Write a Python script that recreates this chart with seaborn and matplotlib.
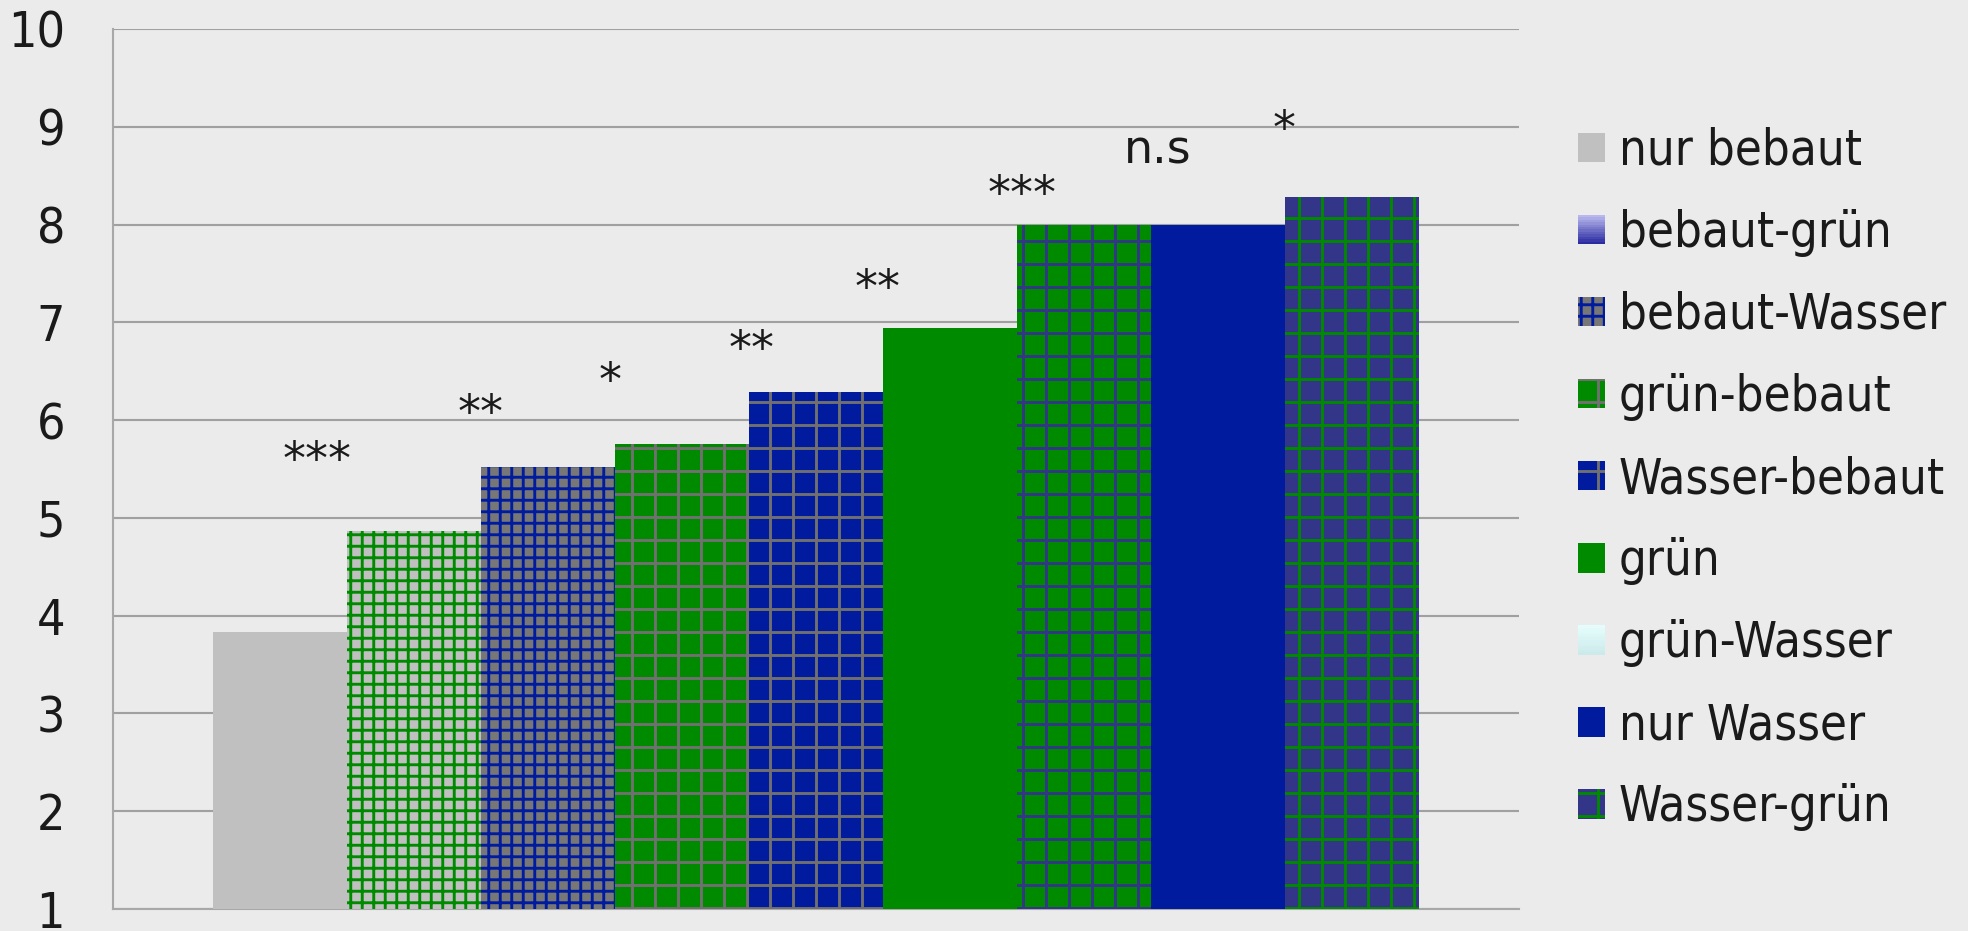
import matplotlib
matplotlib.use("Agg")
import matplotlib.pyplot as plt
from matplotlib.patches import Patch, Rectangle
from matplotlib.legend_handler import HandlerBase
from matplotlib import font_manager
import matplotlib.colors as mcolors
import numpy as np
import seaborn as sns
import pandas as pd

# ---- data ----
categories = ["nur bebaut", "bebaut-grün", "bebaut-Wasser", "grün-bebaut",
              "Wasser-bebaut", "grün", "grün-Wasser", "nur Wasser", "Wasser-grün"]
values = [3.83, 4.87, 5.52, 5.76, 6.29, 6.94, 8.0, 8.0, 8.28]

sig_labels = ["***", "**", "*", "**", "**", "***", "n.s", "*"]
sig_x = [0.28, 1.5, 2.46, 3.52, 4.46, 5.54, 6.55, 7.49]
sig_y = [5.45, 5.93, 6.26, 6.58, 7.21, 8.17, 8.62, 8.83]

yticks = [1, 2, 3, 4, 5, 6, 7, 8, 9, 10]

# ---- styles ----
GREY = "#c0c0c0"
DGREY = "#777777"
GREEN = "#008a00"
BLUE = "#001b9e"
PURP = "#333588"
LINE = "#707070"

bar_face = [GREY, GREY, DGREY, GREEN, BLUE, GREEN, GREEN, BLUE, PURP]
bar_hatch = [None, "++", "++", "+", "+", None, "+", None, "+"]
bar_hcol = [GREY, GREEN, BLUE, LINE, LINE, GREEN, PURP, BLUE, GREEN]

leg_face = [GREY, "#7070c4", DGREY, GREEN, BLUE, GREEN, "#d9f5f5", BLUE, PURP]
leg_hatch = [None, None, "++", "+", "+", None, None, None, "+"]
leg_hcol = [GREY, "#7070c4", BLUE, LINE, LINE, GREEN, "#d9f5f5", BLUE, GREEN]
leg_grad = [None, ("#b8b8ee", "#2c2ca2"), None, None, None, None,
            ("#e4fcfc", "#cdeaea"), None, None]

BG = "#ebebeb"
TXT = "#1a1a1a"

sns.set_theme(style="white")
plt.rcParams["font.family"] = ["DejaVu Sans"]
plt.rcParams["hatch.linewidth"] = 1.5
plt.rcParams["text.color"] = TXT

# use condensed DejaVu if available (closer to the reference's narrow face)
cond_path = font_manager.findfont(font_manager.FontProperties(family="DejaVu Sans", stretch="condensed"))
condensed = "Condensed" in cond_path
if condensed:
    tick_fp = font_manager.FontProperties(fname=cond_path, size=26)
    leg_fp = font_manager.FontProperties(fname=cond_path, size=25.5)
else:
    tick_fp = font_manager.FontProperties(family="DejaVu Sans", size=23.5)
    leg_fp = font_manager.FontProperties(family="DejaVu Sans", size=22.5)


class GradientHandler(HandlerBase):
    def __init__(self, c_top, c_bot, n=12):
        super().__init__()
        self.c_top = np.array(mcolors.to_rgb(c_top))
        self.c_bot = np.array(mcolors.to_rgb(c_bot))
        self.n = n

    def create_artists(self, legend, orig_handle, xdescent, ydescent, width, height,
                       fontsize, trans):
        arts = []
        h = height / self.n
        for i in range(self.n):
            t = i / (self.n - 1)
            col = self.c_bot * (1 - t) + self.c_top * t
            r = Rectangle((-xdescent, -ydescent + i * h), width, h * 1.05,
                          facecolor=col, edgecolor="none", linewidth=0, transform=trans)
            arts.append(r)
        return arts


DPI = 138
fig = plt.figure(figsize=(1968 / DPI, 931 / DPI), dpi=DPI, facecolor=BG)
ax = fig.add_axes([113 / 1968, 1 - 909 / 931, (1519 - 113) / 1968, (909 - 29) / 931])
ax.set_facecolor(BG)

df = pd.DataFrame({"cat": categories, "val": values})
sns.barplot(data=df, x="cat", y="val", order=categories, width=1.0,
            color=GREY, saturation=1, errorbar=None, ax=ax)

for p, fc, h, hc in zip(ax.patches, bar_face, bar_hatch, bar_hcol):
    p.set_facecolor(fc)
    p.set_edgecolor(hc)
    p.set_linewidth(0)
    if h:
        p.set_hatch(h)
    p.set_zorder(3)

ax.set_ylim(1, 10)
ax.set_xlim(-0.5 - 0.746, 8.5 + 0.746)
ax.set_yticks(yticks)
ax.set_yticklabels([str(t) for t in yticks])
for lab in ax.get_yticklabels():
    lab.set_fontproperties(tick_fp)
    lab.set_color(TXT)
ax.set_xticks([])
ax.set_xlabel("")
ax.set_ylabel("")
ax.tick_params(axis="y", length=0, pad=25)
ax.yaxis.grid(True, color="#a0a0a0", linewidth=1.1, zorder=0)
ax.set_axisbelow(True)
for s in ["top", "right"]:
    ax.spines[s].set_visible(False)
for s in ["left", "bottom"]:
    ax.spines[s].set_color("#a8a8a8")
    ax.spines[s].set_linewidth(1.1)

for lab, x, y in zip(sig_labels, sig_x, sig_y):
    ax.text(x, y, lab, ha="center", va="baseline", fontsize=24, color=TXT, zorder=5)

handles = []
hmap = {}
for fc, h, hc, g, lab in zip(leg_face, leg_hatch, leg_hcol, leg_grad, categories):
    p = Patch(facecolor=fc, edgecolor=hc, hatch=h, linewidth=0, label=lab)
    handles.append(p)
    if g is not None:
        hmap[p] = GradientHandler(g[0], g[1])

fsz = leg_fp.get_size_in_points()
fsz_px = fsz * DPI / 72
fig.legend(handles=handles, loc="center left", bbox_to_anchor=(1578 / 1968, 1 - 479 / 931),
           frameon=False, prop=leg_fp, handlelength=27 / fsz_px, handleheight=27 / fsz_px,
           handletextpad=0.28, labelspacing=(81.5 - 1.17 * fsz_px) / fsz_px + 0.2,
           borderpad=0, borderaxespad=0, handler_map=hmap)

fig.savefig("out.png", dpi=DPI, facecolor=BG)
